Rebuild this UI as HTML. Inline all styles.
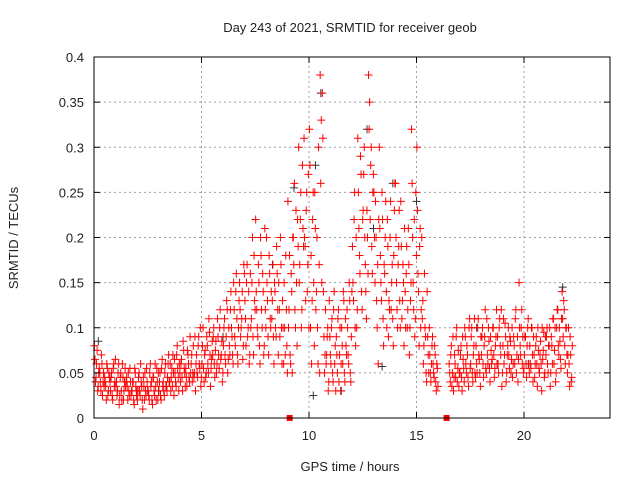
<!DOCTYPE html>
<html><head><meta charset="utf-8"><style>
body{margin:0;background:#fff}
svg text{font-family:"Liberation Sans",sans-serif;font-size:13px;fill:#222}
</style></head><body>
<svg id="chart" width="640" height="480" xmlns="http://www.w3.org/2000/svg">
<rect width="640" height="480" fill="#fff"/>
<g id="grid"></g><g id="pts"></g><g id="axes"></g>
<text x="350" y="32" text-anchor="middle">Day 243 of 2021, SRMTID for receiver geob</text>
<text x="350" y="471" text-anchor="middle">GPS time / hours</text>
<text transform="translate(18,238) rotate(-90)" text-anchor="middle">SRMTID / TECUs</text>
</svg>
<script>
const binStarts=[0,0.25,0.5,0.75,1,1.25,1.5,1.75,2,2.25,2.5,2.75,3,3.25,3.5,3.75,4,4.25,4.5,4.75,5,5.25,5.5,5.75,6,6.25,6.5,6.75,7,7.25,7.5,7.75,8,8.25,8.5,8.75,9,9.25,9.5,9.75,10,10.25,10.5,10.75,11,11.25,11.5,11.75,12,12.25,12.5,12.75,13,13.25,13.5,13.75,14,14.25,14.5,14.75,15,15.25,15.5,15.75,16.5,16.75,17,17.25,17.5,17.75,18,18.25,18.5,18.75,19,19.25,19.5,19.75,20,20.25,20.5,20.75,21,21.25,21.5,21.75,22];
const binValues=[
[.08,.04,.06,.03,.05],[.05,.03,.06,.04,.035],[.04,.02,.055,.03,.045],[.03,.05,.02,.06,.04],
[.035,.025,.05,.015,.045],[.03,.06,.02,.04,.035],[.045,.02,.03,.055,.025],[.03,.04,.015,.05,.025],
[.02,.045,.03,.06,.035],[.01,.035,.05,.025,.04],[.03,.02,.06,.04,.015],[.045,.025,.035,.055,.02],
[.03,.05,.02,.065,.04],[.025,.06,.035,.045,.07],[.04,.03,.055,.07,.025],[.05,.035,.08,.045,.06],
[.04,.065,.03,.075,.05],[.055,.035,.07,.045,.09],[.06,.04,.08,.05,.03],[.07,.045,.09,.055,.035],
[.06,.1,.04,.075,.05],[.08,.05,.095,.035,.065],[.07,.1,.045,.085,.06],[.09,.055,.12,.07,.04],
[.08,.11,.06,.13,.05],[.1,.07,.14,.09,.06],[.12,.08,.16,.07,.1],[.15,.09,.11,.065,.17],
[.13,.08,.17,.1,.06],[.16,.11,.2,.07,.13],[.22,.12,.09,.15,.06],[.18,.1,.14,.08,.12],
[.2,.13,.07,.16,.1],[.11,.17,.06,.14,.09],[.16,.07,.12,.2,.1],[.13,.06,.1,.18,.08],
[.24,.12,.07,.16,.05],[.2,.26,.1,.15,.22],[.3,.17,.25,.12,.21],[.31,.19,.23,.14,.27],
[.32,.1,.06,.22,.15],[.25,.12,.2,.06,.17],[.38,.33,.36,.14,.05],[.12,.07,.1,.04,.09],
[.06,.11,.04,.14,.08],[.09,.05,.12,.07,.03],[.1,.06,.13,.04,.08],[.12,.07,.15,.05,.09],
[.19,.13,.25,.08,.1],[.31,.21,.16,.27,.12],[.23,.3,.17,.11,.2],[.38,.35,.28,.19,.25],
[.25,.15,.2,.1,.06],[.3,.18,.13,.22,.08],[.16,.24,.1,.19,.13],[.2,.12,.17,.08,.23],
[.26,.15,.1,.19,.13],[.24,.11,.17,.08,.14],[.16,.1,.21,.07,.13],[.32,.2,.12,.09,.25],
[.3,.16,.08,.21,.12],[.11,.06,.16,.09,.04],[.09,.05,.07,.04,.08],[.06,.045,.07,.03,.055],
[.06,.04,.08,.05,.03],[.07,.045,.1,.055,.035],[.05,.08,.03,.065,.04],[.09,.05,.07,.035,.11],
[.06,.1,.04,.08,.05],[.08,.05,.11,.065,.035],[.07,.1,.045,.09,.055],[.11,.06,.085,.04,.075],
[.065,.1,.045,.08,.12],[.09,.05,.11,.07,.035],[.08,.06,.105,.04,.07],[.1,.055,.085,.065,.045],
[.09,.06,.12,.07,.04],[.15,.08,.1,.06,.05],[.07,.09,.045,.1,.06],[.08,.055,.1,.04,.07],
[.06,.09,.035,.075,.05],[.085,.03,.065,.095,.05],[.07,.1,.05,.08,.035],[.09,.06,.11,.075,.04],
[.1,.12,.07,.085,.055],[.14,.09,.12,.06,.1],[.05,.1,.035,.07,.045]];
const binValues2=[
[.065,.045,.075,.035,.055],[.04,.07,.025,.05,.045],[.035,.06,.025,.05,.04],[.045,.025,.055,.035,.065],
[.04,.03,.06,.025,.05],[.02,.045,.03,.055,.04],[.035,.05,.025,.04,.03],[.04,.02,.055,.035,.03],
[.03,.05,.025,.04,.02],[.045,.02,.03,.055,.03],[.025,.05,.035,.02,.045],[.03,.06,.02,.04,.05],
[.04,.025,.055,.035,.03],[.05,.035,.03,.06,.04],[.06,.045,.035,.05,.065],[.04,.07,.055,.03,.05],
[.06,.045,.085,.055,.035],[.045,.075,.06,.04,.05],[.07,.05,.045,.09,.06],[.05,.08,.06,.1,.045],
[.08,.055,.07,.045,.09],[.06,.11,.07,.055,.085],[.09,.06,.075,.05,.11],[.07,.1,.065,.085,.05],
[.1,.07,.09,.12,.065],[.08,.12,.1,.07,.15],[.09,.14,.11,.06,.13],[.12,.1,.14,.08,.16],
[.11,.15,.09,.14,.07],[.1,.15,.09,.18,.12],[.14,.1,.17,.08,.2],[.12,.16,.07,.21,.1],
[.15,.09,.18,.11,.14],[.13,.09,.15,.1,.19],[.12,.15,.09,.17,.06],[.1,.15,.07,.12,.05],
[.1,.18,.06,.14,.2],[.17,.12,.23,.08,.19],[.15,.22,.1,.28,.19],[.2,.13,.25,.17,.1],
[.28,.18,.13,.25,.08],[.21,.14,.1,.3,.05],[.26,.15,.31,.09,.07],[.06,.09,.03,.13,.07],
[.1,.05,.12,.06,.03],[.07,.11,.04,.1,.06],[.08,.14,.05,.11,.07],[.1,.06,.13,.04,.14],
[.15,.22,.1,.2,.12],[.25,.18,.29,.14,.22],[.27,.2,.14,.23,.16],[.32,.22,.3,.16,.27],
[.2,.24,.13,.17,.22],[.21,.15,.25,.11,.17],[.2,.14,.22,.09,.12],[.24,.15,.11,.18,.26],
[.2,.12,.17,.23,.1],[.19,.13,.15,.21,.1],[.19,.12,.17,.1,.15],[.26,.15,.22,.11,.18],
[.23,.14,.19,.1,.2],[.13,.08,.1,.05,.14],[.07,.1,.05,.06,.09],[.05,.08,.04,.06,.035],
[.05,.07,.035,.09,.045],[.06,.09,.04,.075,.05],[.07,.045,.09,.055,.1],[.06,.08,.045,.1,.055],
[.09,.05,.07,.11,.045],[.06,.1,.07,.05,.09],[.09,.06,.08,.12,.05],[.07,.1,.055,.09,.06],
[.1,.07,.055,.09,.06],[.06,.1,.08,.12,.05],[.11,.07,.09,.05,.08],[.07,.09,.05,.1,.06],
[.08,.11,.05,.09,.065],[.1,.07,.12,.09,.055],[.09,.06,.08,.11,.05],[.06,.1,.07,.09,.045],
[.08,.06,.1,.055,.07],[.06,.1,.075,.045,.09],[.09,.06,.08,.1,.05],[.08,.11,.06,.1,.05],
[.12,.08,.1,.065,.11],[.11,.13,.08,.1,.07],[.07,.06,.09,.04,.08]];
const grayTimes=[0.2,9.3,10.3,10.55,12.7,13.9,13.0,21.8,15.0,11.5,8.3,6.0,17.8,20.2,3.0,10.2,13.4];
const grayValues=[.085,.255,.28,.36,.32,.26,.21,.145,.24,.03,.17,.09,.1,.06,.03,.025,.057];
const markerTimes=[9.1,16.4];
const xTicks=[0,5,10,15,20];
const yTicks=[0,0.05,0.1,0.15,0.2,0.25,0.3,0.35,0.4];
const X0=94,X1=610,Y0=418,Y1=57,XMAX=24,YMAX=0.4;
const xs=t=>X0+(X1-X0)*t/XMAX, ys=v=>Y0-(Y0-Y1)*v/YMAX;
const NS='http://www.w3.org/2000/svg';
function mk(tag,attrs,parent){const e=document.createElementNS(NS,tag);for(const k in attrs)e.setAttribute(k,attrs[k]);parent.appendChild(e);return e;}
const grid=document.getElementById('grid'),axes=document.getElementById('axes'),pts=document.getElementById('pts');
xTicks.forEach(t=>{const x=xs(t);
 if(t>0){const g=mk('line',{x1:x,x2:x,y1:Y0,y2:Y1,stroke:'#a0a0a0','stroke-dasharray':'2,3'},grid);
 
 }
 mk('line',{x1:x,x2:x,y1:Y0,y2:Y0-6,stroke:'#000'},axes);mk('line',{x1:x,x2:x,y1:Y1,y2:Y1+6,stroke:'#000'},axes);
 const l=mk('text',{x:x,y:Y0+22,'text-anchor':'middle'},axes);l.textContent=t;
 
 });
yTicks.forEach(v=>{const y=ys(v);
 if(v>0&&v<YMAX){const g=mk('line',{x1:X0,x2:X1,y1:y,y2:y,stroke:'#a0a0a0','stroke-dasharray':'2,3'},grid);
 
 }
 mk('line',{x1:X0,x2:X0+6,y1:y,y2:y,stroke:'#000'},axes);mk('line',{x1:X1,x2:X1-6,y1:y,y2:y,stroke:'#000'},axes);
 const l=mk('text',{x:X0-10,y:y+5,'text-anchor':'end'},axes);l.textContent=String(v);
 
 });
const fr=mk('rect',{x:X0,y:Y1,width:X1-X0,height:Y0-Y1,fill:'none',stroke:'#000'},axes);


function plus(t,v,c,name){const x=xs(t),y=ys(v);
 const p=mk('path',{d:`M${x-4} ${y}H${x+4}M${x} ${y-4}V${y+4}`,stroke:c,'stroke-width':1,fill:'none'},pts);
 
 }
grayTimes.forEach((t,i)=>plus(t,grayValues[i],'#333','gray-point'));
binStarts.forEach((t,i)=>binValues[i].forEach((v,k)=>plus(t+0.02+k*0.05,v,'#f00','red-point')));
binStarts.forEach((t,i)=>binValues2[i].forEach((v,k)=>plus(t+0.045+k*0.05,v,'#f00','red-point')));
markerTimes.forEach(t=>{const r=mk('rect',{x:xs(t)-3,y:Y0-3,width:6,height:6,fill:'#f00'},pts);
 
 });
</script>
</body></html>
